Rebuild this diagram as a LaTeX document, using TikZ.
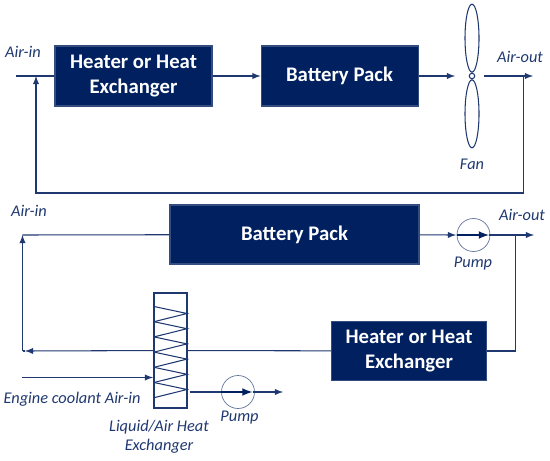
\documentclass[tikz,border=0pt]{standalone}
\usepackage{fontspec}
\setmainfont{Carlito}
\usetikzlibrary{shapes,arrows,positioning}
\definecolor{DeepNavy}{RGB}{0, 32, 96}
\definecolor{LineNavy}{RGB}{31, 56, 112}

\begin{document}
\begin{tikzpicture}[
    block/.style={rectangle, draw=DeepNavy!80, fill=DeepNavy, text=white, semithick, minimum width=3.14cm, minimum height=1.2cm, inner sep=0pt, align=center, font=\fontsize{11.8}{13.8}\selectfont\bfseries},
    arrow/.style={-latex, semithick, LineNavy},
    line/.style={semithick, LineNavy},
    heavy/.style={-latex, line width=1pt, DeepNavy},
    label/.style={text=LineNavy, inner sep=0pt, align=center, font=\fontsize{9.3}{10.8}\selectfont\itshape},
    blade/.style={ellipse, draw=LineNavy, semithick, minimum width=0.28cm, minimum height=1.36cm, inner sep=0pt},
    pump/.style={circle, draw=LineNavy!70, thin, minimum size=0.66cm, inner sep=0pt}
  ]
    \useasboundingbox (0,0) rectangle (11,9.2);

    % upper loop
    \node[block] (heater1) at (2.67,7.68) {Heater or Heat\\Exchanger};
    \node[block, right=0.96cm of heater1] (battery1) {Battery Pack};
    \node[circle, draw=LineNavy, semithick, minimum size=0.11cm, inner sep=0pt] (hub) at (9.44,7.68) {};
    \node[blade, above=0cm of hub] (bladeA) {};
    \node[blade, below=0cm of hub] (bladeB) {};
    \coordinate (start1) at (0.32,7.68);
    \coordinate (merge1) at (0.72,7.68);
    \coordinate (fanin) at (9.10,7.68);
    \coordinate (fanout) at (9.68,7.68);
    \coordinate (tap1) at (10.47,7.68);
    \coordinate (end1) at (10.66,7.68);
    \coordinate (back1) at (10.47,5.34);
    \coordinate (back2) at (0.72,5.34);

    \draw[line] (start1) -- (heater1);
    \draw[arrow] (heater1) -- (battery1);
    \draw[arrow] (battery1) -- (fanin);
    \draw[arrow] (fanout) -- (end1);
    \draw[arrow] (tap1) -- (back1) -- (back2) -- (merge1);

    \node[label] (airin1) at (0.46,8.16) {Air-in};
    \node[label] (airout1) at (10.40,8.06) {Air-out};
    \node[label] (fanlabel) at (9.44,5.92) {Fan};

    % lower loop
    \node[block, minimum width=4.98cm, minimum height=1.18cm] (battery2) at (5.89,4.51) {Battery Pack};
    \node[block, minimum width=3.1cm, minimum height=1.17cm] (heater2) at (8.18,2.18) {Heater or Heat\\Exchanger};
    \node[rectangle, draw=LineNavy, semithick, minimum width=0.66cm, minimum height=2.3cm, inner sep=0pt] (hx) at (3.41,2.19) {};
    \node[pump] (pump1) at (9.47,4.5) {};
    \node[pump] (pump2) at (4.76,1.36) {};
    \coordinate (turn1) at (0.45,4.5);
    \coordinate (turn2) at (0.45,2.18);
    \coordinate (tip2) at (0.5,2.18);
    \coordinate (pin1) at (9.12,4.5);
    \coordinate (pout1) at (9.78,4.5);
    \coordinate (tap2) at (10.31,4.5);
    \coordinate (end2) at (10.68,4.5);
    \coordinate (bend2) at (10.31,2.18);
    \coordinate (coolin) at (0.44,1.65);
    \coordinate (coolout) at (3.06,1.65);
    \coordinate (hxout) at (3.79,1.36);
    \coordinate (pout2) at (5.05,1.36);
    \coordinate (end3) at (5.66,1.36);

    \foreach \k in {0,...,5}
      \draw[line] (3.08,{3.07-.304*\k}) -- (3.74,{2.93-.304*\k}) -- (3.08,{2.766-.304*\k});

    \draw[line] (battery2) -- (turn1);
    \draw[arrow] (turn2) -- (turn1);
    \draw[arrow] (battery2) -- (pin1);
    \draw[heavy] (pump1.west) -- (pout1);
    \draw[arrow] (pout1) -- (end2);
    \draw[line] (tap2) -- (bend2) -- (heater2);
    \draw[line] (heater2) -- (hx);
    \draw[arrow] (hx) -- (tip2);
    \draw[line] (tip2) -- (turn2);
    \draw[arrow] (coolin) -- (coolout);
    \draw[line] (hxout) -- (pump2);
    \draw[heavy] (pump2.west) -- (pout2);
    \draw[arrow] (pout2) -- (end3);

    \node[label] (airin2) at (0.58,4.98) {Air-in};
    \node[label] (airout2) at (10.44,4.90) {Air-out};
    \node[label] (pumplabel1) at (9.46,3.92) {Pump};
    \node[label] (coolant) at (1.44,1.22) {Engine coolant Air-in};
    \node[label] (hxlabel) at (3.18,0.46) {Liquid/Air Heat\\Exchanger};
    \node[label] (pumplabel2) at (4.79,0.84) {Pump};
  \end{tikzpicture}
\end{document}
